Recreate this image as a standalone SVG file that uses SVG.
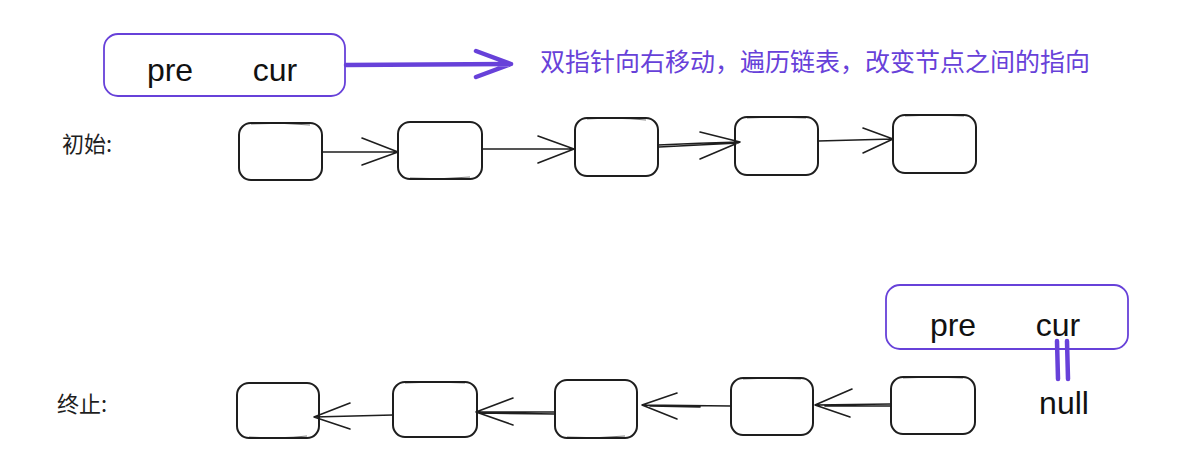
<svg xmlns="http://www.w3.org/2000/svg" width="1193" height="474" viewBox="0 0 1193 474">
  <style>
    .node { fill: #ffffff; stroke: #1e1e1e; stroke-width: 2; }
    .node2 { fill: none; stroke: #1e1e1e; stroke-width: 1; opacity: 0.6; }
    .ptr { fill: #ffffff; stroke: #6741d9; stroke-width: 1.8; }
    .link { fill: none; stroke: #1e1e1e; stroke-width: 1.6; stroke-linecap: round; stroke-linejoin: round; }
    .move { fill: none; stroke: #6741d9; stroke-width: 4.5; stroke-linecap: round; stroke-linejoin: round; }
    .lat { font-family: "Liberation Sans", Arial, sans-serif; font-size: 32px; fill: #111111; text-anchor: middle; }
    .cjk { font-family: "Noto Sans CJK SC", "Noto Sans", sans-serif; font-size: 22px; fill: #1e1e1e; }
    .note { font-family: "Noto Sans CJK SC", "Noto Sans", sans-serif; font-size: 25px; fill: #6741d9; }
  </style>
  <rect width="1193" height="474" fill="#ffffff"/>

  <!-- pointer pair, start state -->
  <g id="pointers-start">
    <rect class="ptr" x="104" y="34" width="241" height="62" rx="14"/>
    <text class="lat" x="170" y="81">pre</text>
    <text class="lat" x="275" y="81">cur</text>
  </g>
  <g id="move-arrow">
    <path class="move" d="M346 65 L511 64 M476 51 L511 64 L476 77"/>
  </g>
  <g id="note">
    <text class="note" x="540" y="71">双指针向右移动，遍历链表，改变节点之间的指向</text>
  </g>

  <!-- row labels -->
  <g id="label-start"><text class="cjk" x="62" y="152">初始:</text></g>
  <g id="label-end"><text class="cjk" x="57" y="412">终止:</text></g>

  <!-- initial list -->
  <g id="n1"><rect class="node" x="239" y="123" width="83" height="57" rx="12"/><path class="node2" d="M251 124 Q280 122 310 125"/></g>
  <g id="n2"><rect class="node" x="398" y="122" width="84" height="57" rx="12"/><path class="node2" d="M410 178 Q440 180 470 177"/></g>
  <g id="n3"><rect class="node" x="575" y="118" width="83" height="58" rx="12"/><path class="node2" d="M587 119 Q615 117 646 120"/></g>
  <g id="n4"><rect class="node" x="735" y="117" width="83" height="58" rx="12"/><path class="node2" d="M747 118 Q775 116 806 118"/></g>
  <g id="n5"><rect class="node" x="893" y="115" width="83" height="58" rx="12"/><path class="node2" d="M905 116 Q935 114 964 116"/></g>

  <!-- final list -->
  <g id="m1"><rect class="node" x="237" y="383" width="82" height="55" rx="12"/><path class="node2" d="M249 437 Q280 439 307 436"/></g>
  <g id="m2"><rect class="node" x="393" y="382" width="84" height="55" rx="12"/><path class="node2" d="M405 383 Q435 381 465 383"/></g>
  <g id="m3"><rect class="node" x="555" y="380" width="82" height="58" rx="12"/><path class="node2" d="M567 437 Q595 439 625 436"/></g>
  <g id="m4"><rect class="node" x="731" y="378" width="82" height="57" rx="12"/><path class="node2" d="M743 379 Q772 377 801 379"/></g>
  <g id="m5"><rect class="node" x="891" y="377" width="84" height="57" rx="12"/><path class="node2" d="M903 378 Q933 376 963 378"/></g>

  <!-- pointer pair, end state -->
  <g id="pointers-end">
    <rect class="ptr" x="886" y="285" width="242" height="64" rx="14"/>
    <text class="lat" x="953" y="336">pre</text>
    <text class="lat" x="1058" y="336">cur</text>
  </g>
  <g id="null">
    <text class="lat" x="1064" y="414">null</text>
  </g>

  <g id="connectors">
    <!-- forward links -->
    <path class="link" d="M322 152 L398 152 M362 138 L398 152 L362 165"/>
    <path class="link" d="M482 149 L574 149 M538 136 L574 149 L538 163"/>
    <path class="link" d="M658 145 Q700 143 740 142 M700 132 L740 142 L700 159 M659 147 L738 143"/>
    <path class="link" d="M818 141 L893 139 M863 128 L893 139 L863 153"/>
    <!-- reversed links -->
    <path class="link" d="M393 415 L314 417 M350 403 L314 417 L350 429"/>
    <path class="link" d="M555 412 L476 412 M513 398 L476 412 L513 425 M555 414 L480 413"/>
    <path class="link" d="M731 406 L642 405 M677 393 L642 405 L677 419 M700 407 L650 406"/>
    <path class="link" d="M891 404 L815 405 M852 389 L815 405 L850 417 M891 406 L825 406"/>
    <!-- cur points to null -->
    <path class="move" d="M1057 341 L1058 379 M1067 341 L1068 379"/>
  </g>
</svg>
